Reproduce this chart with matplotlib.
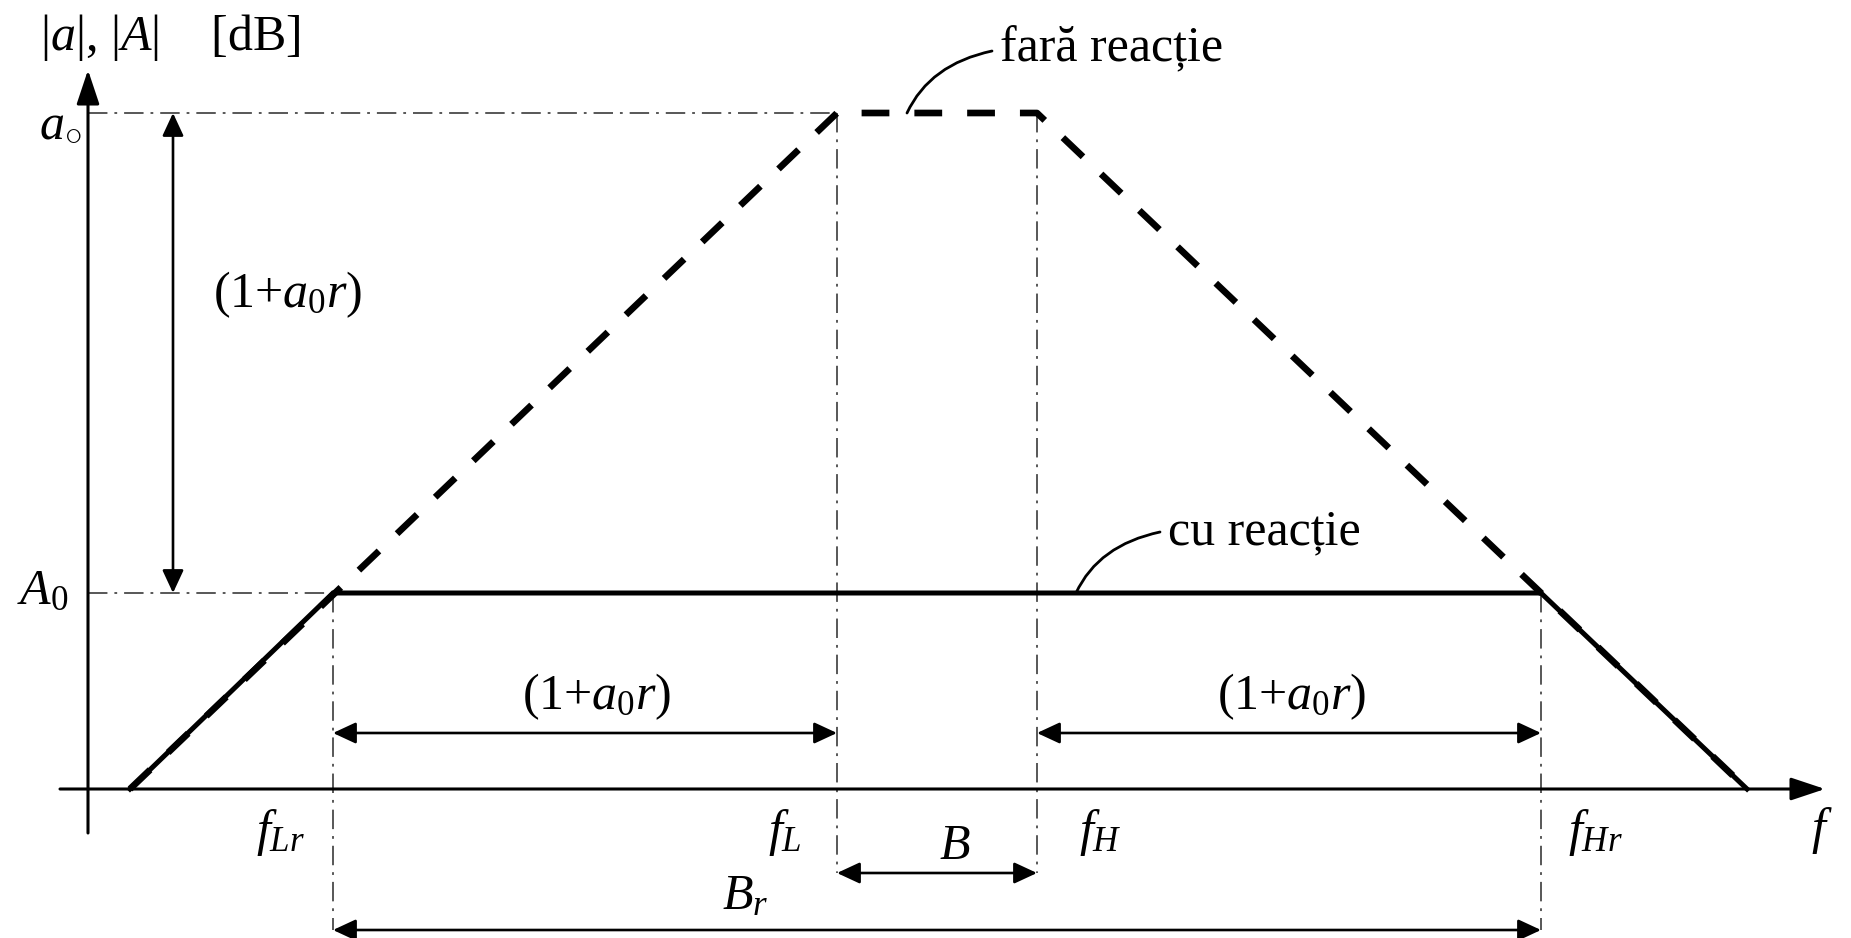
import matplotlib
matplotlib.use("Agg")
import matplotlib.pyplot as plt

plt.rcParams["font.family"] = ["Liberation Serif", "DejaVu Serif"]
plt.rcParams["mathtext.fontset"] = "custom"
plt.rcParams["mathtext.rm"] = "Liberation Serif"
plt.rcParams["mathtext.it"] = "Liberation Serif:italic"
plt.rcParams["lines.scale_dashes"] = False

# Bode asymptotes (arbitrary units: frequency along x, gain in dB along y)
f_start, f_stop = 42, 1659
f_Lr, f_L, f_H, f_Hr = 245, 749, 949, 1453
a_0 = 676   # open-loop midband gain
A_0 = 196   # closed-loop midband gain

freq_open = [f_start, f_L, f_H, f_stop]
gain_open = [0, a_0, a_0, 0]
freq_closed = [f_start, f_Lr, f_Hr, f_stop]
gain_closed = [0, A_0, A_0, 0]

fig = plt.figure(figsize=(18.51, 9.38), dpi=100)
ax = fig.add_axes([0, 0, 1, 1])
ax.set_xlim(-88, 1763)
ax.set_ylim(-149, 789)
ax.axis("off")

FS = 36
guide = dict(color="#4a4a4a", lw=1.3, dashes=(14, 5, 2, 5))


def arrow(p0, p1, style="<|-|>", hl=14, hw=6.5, lw=1.9):
    ax.annotate("", xy=p1, xytext=p0,
                arrowprops=dict(arrowstyle=f"{style},head_length={hl},head_width={hw}",
                                color="black", lw=lw, shrinkA=0, shrinkB=0,
                                mutation_scale=1))


# coordinate axes
arrow((-28, 0), (1737, 0), style="-|>", hl=21, hw=7, lw=2.2)
arrow((0, -44), (0, 719), style="-|>", hl=21, hw=7, lw=2.2)

# construction lines
ax.plot([0, f_L], [a_0, a_0], **guide)
ax.plot([0, f_Lr], [A_0, A_0], **guide)
for f in (f_L, f_H):
    ax.plot([f, f], [a_0, -84], **guide)
for f in (f_Lr, f_Hr):
    ax.plot([f, f], [A_0, -141], **guide)

# responses
ax.plot(freq_closed, gain_closed, color="black", lw=3.6, solid_joinstyle="miter")
ax.plot(freq_open, gain_open, color="black", lw=4.8, dashes=(20, 18))

# dimension arrows
arrow((85, a_0), (85, A_0))
arrow((f_Lr, 56), (f_L, 56))
arrow((f_Hr, 56), (f_H, 56))
arrow((f_L, -84), (f_H, -84))
arrow((f_Lr, -141), (f_Hr, -141))

# leader lines to the curve labels
ax.annotate("", xy=(819, a_0), xytext=(904, 738),
            arrowprops=dict(arrowstyle="-", color="black", lw=2.0, shrinkA=0, shrinkB=0,
                            connectionstyle="angle3,angleA=12,angleB=65"))
ax.annotate("", xy=(988, A_0), xytext=(1072, 257),
            arrowprops=dict(arrowstyle="-", color="black", lw=2.0, shrinkA=0, shrinkB=0,
                            connectionstyle="angle3,angleA=12,angleB=65"))

# labels
ax.text(-48, 752, r"$|a|$, $|A|$    [dB]", fontsize=FS, ha="left", va="center")
ax.text(-28, 664, r"$a_{\circ}$", fontsize=FS, ha="center", va="center")
ax.text(-45, 197, r"$A_{\mathrm{0}}$", fontsize=FS, ha="center", va="center")
ax.text(200, 494, r"(1+$a_{\mathrm{0}}r$)", fontsize=FS, ha="center", va="center")
ax.text(509, 92, r"(1+$a_{\mathrm{0}}r$)", fontsize=FS, ha="center", va="center")
ax.text(1204, 92, r"(1+$a_{\mathrm{0}}r$)", fontsize=FS, ha="center", va="center")
ax.text(912, 740, "fară reacție", fontsize=FS, ha="left", va="center")
ax.text(1080, 257, "cu reacție", fontsize=FS, ha="left", va="center")
ax.text(f_Lr - 52, -43, r"$f_{Lr}$", fontsize=FS, ha="center", va="center")
ax.text(f_L - 52, -43, r"$f_{L}$", fontsize=FS, ha="center", va="center")
ax.text(f_H + 63, -43, r"$f_{H}$", fontsize=FS, ha="center", va="center")
ax.text(f_Hr + 54, -43, r"$f_{Hr}$", fontsize=FS, ha="center", va="center")
ax.text(1734, -41, r"$f$", fontsize=FS, ha="center", va="center")
ax.text(867, -58, r"$B$", fontsize=FS, ha="center", va="center")
ax.text(657, -108, r"$B_{r}$", fontsize=FS, ha="center", va="center")

fig.savefig("out.png", dpi=100)
